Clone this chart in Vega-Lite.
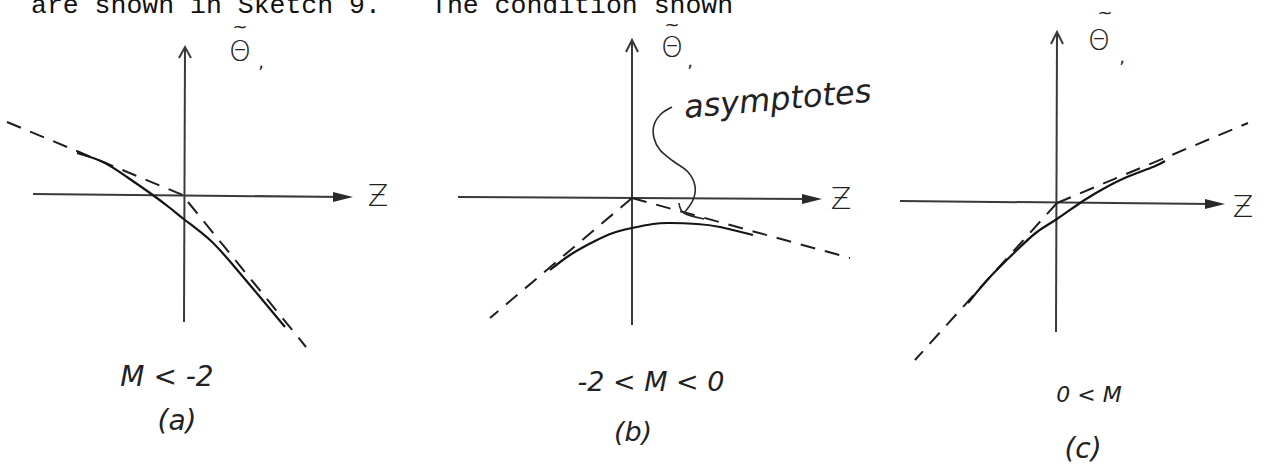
{
  "$schema": "https://vega.github.io/schema/vega-lite/v6.json",
  "padding": 0,
  "spacing": 0,
  "bounds": "flush",
  "background": "white",
  "config": {"view": {"stroke": null}},
  "datasets": {
    "a": [
      {"kind": "hx", "seq": 0, "z": -3.04, "t": 0.04},
      {"kind": "hx", "seq": 1, "z": 3.2, "t": -0.02},
      {"kind": "vy", "seq": 0, "z": 0, "t": 2.98},
      {"kind": "vy", "seq": 1, "z": -0.02, "t": -2.52},
      {"kind": "vhead", "seq": 0, "z": -0.12, "t": 2.76},
      {"kind": "vhead", "seq": 1, "z": 0, "t": 2.98},
      {"kind": "vhead", "seq": 2, "z": 0.12, "t": 2.76},
      {"kind": "tip", "seq": 0, "z": 3.16, "t": -0.02},
      {"kind": "dash1", "seq": 0, "z": -3.56, "t": 1.48},
      {"kind": "dash1", "seq": 1, "z": 0, "t": 0},
      {"kind": "dash2", "seq": 0, "z": 0.06, "t": -0.12},
      {"kind": "dash2", "seq": 1, "z": 2.42, "t": -3.02},
      {"kind": "curve", "seq": 0, "z": -2.16, "t": 0.86},
      {"kind": "curve", "seq": 1, "z": -1.64, "t": 0.68},
      {"kind": "curve", "seq": 2, "z": -1.16, "t": 0.38},
      {"kind": "curve", "seq": 3, "z": -0.7, "t": 0.06},
      {"kind": "curve", "seq": 4, "z": -0.3, "t": -0.24},
      {"kind": "curve", "seq": 5, "z": 0, "t": -0.48},
      {"kind": "curve", "seq": 6, "z": 0.5, "t": -0.88},
      {"kind": "curve", "seq": 7, "z": 0.96, "t": -1.38},
      {"kind": "curve", "seq": 8, "z": 1.5, "t": -2.02},
      {"kind": "curve", "seq": 9, "z": 2.0, "t": -2.62},
      {"kind": "theta", "label": "Θ", "z": 1.1, "t": 2.86},
      {"kind": "tilde", "label": "~", "z": 1.1, "t": 3.36},
      {"kind": "sub", "label": ",", "z": 1.52, "t": 2.66},
      {"kind": "zlab", "label": "Ƶ", "z": 3.86, "t": -0.02},
      {"kind": "cond", "label": "M  <  -2", "z": -0.36, "t": -3.64},
      {"kind": "tag", "label": "(a)", "z": -0.16, "t": -4.52},
      {"kind": "top", "label": "are shown in Sketch 9.", "z": -3.08, "t": 3.66}
    ],
    "b": [
      {"kind": "hx", "seq": 0, "z": -3.48, "t": 0.02},
      {"kind": "hx", "seq": 1, "z": 3.5, "t": -0.02},
      {"kind": "vy", "seq": 0, "z": 0, "t": 3.16},
      {"kind": "vy", "seq": 1, "z": 0, "t": -2.54},
      {"kind": "vhead", "seq": 0, "z": -0.12, "t": 2.92},
      {"kind": "vhead", "seq": 1, "z": 0, "t": 3.16},
      {"kind": "vhead", "seq": 2, "z": 0.12, "t": 2.92},
      {"kind": "tip", "seq": 0, "z": 3.6, "t": -0.02},
      {"kind": "dash1", "seq": 0, "z": 0, "t": 0},
      {"kind": "dash1", "seq": 1, "z": -2.84, "t": -2.4},
      {"kind": "dash2", "seq": 0, "z": 0, "t": 0},
      {"kind": "dash2", "seq": 1, "z": 4.36, "t": -1.2},
      {"kind": "curve", "seq": 0, "z": -1.64, "t": -1.44},
      {"kind": "curve", "seq": 1, "z": -1.24, "t": -1.14},
      {"kind": "curve", "seq": 2, "z": -0.78, "t": -0.88},
      {"kind": "curve", "seq": 3, "z": -0.38, "t": -0.7},
      {"kind": "curve", "seq": 4, "z": 0, "t": -0.6},
      {"kind": "curve", "seq": 5, "z": 0.42, "t": -0.52},
      {"kind": "curve", "seq": 6, "z": 0.76, "t": -0.5},
      {"kind": "curve", "seq": 7, "z": 1.3, "t": -0.52},
      {"kind": "curve", "seq": 8, "z": 1.76, "t": -0.58},
      {"kind": "curve", "seq": 9, "z": 2.42, "t": -0.74},
      {"kind": "wiggle", "seq": 0, "z": 0.8, "t": 1.82},
      {"kind": "wiggle", "seq": 1, "z": 0.58, "t": 1.68},
      {"kind": "wiggle", "seq": 2, "z": 0.44, "t": 1.46},
      {"kind": "wiggle", "seq": 3, "z": 0.44, "t": 1.2},
      {"kind": "wiggle", "seq": 4, "z": 0.56, "t": 0.96},
      {"kind": "wiggle", "seq": 5, "z": 0.82, "t": 0.74},
      {"kind": "wiggle", "seq": 6, "z": 1.12, "t": 0.52},
      {"kind": "wiggle", "seq": 7, "z": 1.26, "t": 0.24},
      {"kind": "wiggle", "seq": 8, "z": 1.22, "t": -0.04},
      {"kind": "wiggle", "seq": 9, "z": 1.04, "t": -0.3},
      {"kind": "whead", "seq": 0, "z": 0.94, "t": -0.1},
      {"kind": "whead", "seq": 1, "z": 1.04, "t": -0.3},
      {"kind": "whead", "seq": 2, "z": 1.44, "t": -0.42},
      {"kind": "theta", "label": "Θ", "z": 0.8, "t": 2.98},
      {"kind": "tilde", "label": "~", "z": 0.8, "t": 3.44},
      {"kind": "sub", "label": ",", "z": 1.16, "t": 2.72},
      {"kind": "zlab", "label": "Ƶ", "z": 4.18, "t": -0.04},
      {"kind": "cond", "label": "-2  <  M  <  0", "z": 0.38, "t": -3.7},
      {"kind": "tag", "label": "(b)", "z": 0.02, "t": -4.7},
      {"kind": "note", "label": "asymptotes", "z": 1.06, "t": 1.6},
      {"kind": "top", "label": "The condition shown", "z": -4.02, "t": 3.7}
    ],
    "c": [
      {"kind": "hx", "seq": 0, "z": -3.14, "t": 0.04},
      {"kind": "hx", "seq": 1, "z": 3.1, "t": -0.02},
      {"kind": "vy", "seq": 0, "z": 0, "t": 3.42},
      {"kind": "vy", "seq": 1, "z": -0.02, "t": -2.58},
      {"kind": "vhead", "seq": 0, "z": -0.12, "t": 3.18},
      {"kind": "vhead", "seq": 1, "z": 0, "t": 3.42},
      {"kind": "vhead", "seq": 2, "z": 0.12, "t": 3.18},
      {"kind": "tip", "seq": 0, "z": 3.16, "t": -0.02},
      {"kind": "dash1", "seq": 0, "z": 0, "t": 0},
      {"kind": "dash1", "seq": 1, "z": -2.84, "t": -3.14},
      {"kind": "dash2", "seq": 0, "z": 0, "t": 0},
      {"kind": "dash2", "seq": 1, "z": 3.82, "t": 1.6},
      {"kind": "curve", "seq": 0, "z": -1.78, "t": -2.0},
      {"kind": "curve", "seq": 1, "z": -1.34, "t": -1.48},
      {"kind": "curve", "seq": 2, "z": -0.8, "t": -0.94},
      {"kind": "curve", "seq": 3, "z": -0.4, "t": -0.58},
      {"kind": "curve", "seq": 4, "z": 0, "t": -0.32},
      {"kind": "curve", "seq": 5, "z": 0.46, "t": 0},
      {"kind": "curve", "seq": 6, "z": 0.92, "t": 0.28},
      {"kind": "curve", "seq": 7, "z": 1.4, "t": 0.52},
      {"kind": "curve", "seq": 8, "z": 1.92, "t": 0.72},
      {"kind": "curve", "seq": 9, "z": 2.16, "t": 0.84},
      {"kind": "theta", "label": "Θ", "z": 0.84, "t": 3.22},
      {"kind": "tilde", "label": "~", "z": 0.96, "t": 3.78},
      {"kind": "sub", "label": ",", "z": 1.3, "t": 2.9},
      {"kind": "zlab", "label": "Ƶ", "z": 3.72, "t": -0.1},
      {"kind": "cond", "label": "0 < M", "z": 0.64, "t": -3.84},
      {"kind": "tag", "label": "(c)", "z": 0.52, "t": -4.94}
    ]
  },
  "hconcat": [
    {
      "width": 420,
      "height": 465,
      "data": {"name": "a"},
      "encoding": {
        "x": {"field": "z", "type": "quantitative", "scale": {"domain": [-3.7, 4.7], "nice": false, "zero": false}, "axis": null},
        "y": {"field": "t", "type": "quantitative", "scale": {"domain": [-5.38, 3.92], "nice": false, "zero": false}, "axis": null}
      },
      "layer": [
        {"transform": [{"filter": "datum.kind === 'hx' || datum.kind === 'vy' || datum.kind === 'vhead'"}],
         "mark": {"type": "line", "color": "#3a3a3a", "strokeWidth": 2},
         "encoding": {"detail": {"field": "kind"}, "order": {"field": "seq", "type": "quantitative"}}},
        {"transform": [{"filter": "datum.kind === 'tip'"}],
         "mark": {"type": "point", "shape": "M-1,-0.5L1,0L-1,0.5Z", "filled": true, "size": 400, "color": "#2a2a2a", "opacity": 1}},
        {"transform": [{"filter": "datum.kind === 'dash1' || datum.kind === 'dash2'"}],
         "mark": {"type": "line", "color": "#1e1e1e", "strokeWidth": 2, "strokeDash": [15, 10]},
         "encoding": {"detail": {"field": "kind"}, "order": {"field": "seq", "type": "quantitative"}}},
        {"transform": [{"filter": "datum.kind === 'curve'"}],
         "mark": {"type": "line", "color": "#141414", "strokeWidth": 2.2, "interpolate": "natural"},
         "encoding": {"order": {"field": "seq", "type": "quantitative"}}},
        {"transform": [{"filter": "datum.kind === 'theta'"}],
         "mark": {"type": "text", "font": "DejaVu Sans", "fontSize": 28, "fontWeight": 300, "color": "#222", "baseline": "middle"},
         "encoding": {"text": {"field": "label"}}},
        {"transform": [{"filter": "datum.kind === 'tilde' || datum.kind === 'sub'"}],
         "mark": {"type": "text", "font": "DejaVu Sans", "fontSize": 18, "color": "#222", "baseline": "middle"},
         "encoding": {"text": {"field": "label"}}},
        {"transform": [{"filter": "datum.kind === 'zlab'"}],
         "mark": {"type": "text", "font": "DejaVu Sans", "fontSize": 30, "fontWeight": 300, "color": "#222", "baseline": "middle"},
         "encoding": {"text": {"field": "label"}}},
        {"transform": [{"filter": "datum.kind === 'cond' || datum.kind === 'tag'"}],
         "mark": {"type": "text", "font": "DejaVu Sans", "fontSize": 28, "fontStyle": "italic", "fontWeight": 300, "color": "#222", "baseline": "middle"},
         "encoding": {"text": {"field": "label"}}},
        {"transform": [{"filter": "datum.kind === 'top'"}],
         "mark": {"type": "text", "font": "Liberation Mono", "fontSize": 26.5, "color": "#111", "align": "left", "baseline": "alphabetic", "clip": true},
         "encoding": {"text": {"field": "label"}}}
      ]
    },
    {
      "width": 460,
      "height": 465,
      "data": {"name": "b"},
      "encoding": {
        "x": {"field": "z", "type": "quantitative", "scale": {"domain": [-4.24, 4.96], "nice": false, "zero": false}, "axis": null},
        "y": {"field": "t", "type": "quantitative", "scale": {"domain": [-5.34, 3.96], "nice": false, "zero": false}, "axis": null}
      },
      "layer": [
        {"transform": [{"filter": "datum.kind === 'hx' || datum.kind === 'vy' || datum.kind === 'vhead'"}],
         "mark": {"type": "line", "color": "#3a3a3a", "strokeWidth": 2},
         "encoding": {"detail": {"field": "kind"}, "order": {"field": "seq", "type": "quantitative"}}},
        {"transform": [{"filter": "datum.kind === 'tip'"}],
         "mark": {"type": "point", "shape": "M-1,-0.5L1,0L-1,0.5Z", "filled": true, "size": 400, "color": "#2a2a2a", "opacity": 1}},
        {"transform": [{"filter": "datum.kind === 'dash1' || datum.kind === 'dash2'"}],
         "mark": {"type": "line", "color": "#1e1e1e", "strokeWidth": 2, "strokeDash": [15, 10]},
         "encoding": {"detail": {"field": "kind"}, "order": {"field": "seq", "type": "quantitative"}}},
        {"transform": [{"filter": "datum.kind === 'curve'"}],
         "mark": {"type": "line", "color": "#141414", "strokeWidth": 2.2, "interpolate": "natural"},
         "encoding": {"order": {"field": "seq", "type": "quantitative"}}},
        {"transform": [{"filter": "datum.kind === 'wiggle' || datum.kind === 'whead'"}],
         "mark": {"type": "line", "color": "#2a2a2a", "strokeWidth": 1.6, "interpolate": "cardinal"},
         "encoding": {"detail": {"field": "kind"}, "order": {"field": "seq", "type": "quantitative"}}},
        {"transform": [{"filter": "datum.kind === 'theta'"}],
         "mark": {"type": "text", "font": "DejaVu Sans", "fontSize": 28, "fontWeight": 300, "color": "#222", "baseline": "middle"},
         "encoding": {"text": {"field": "label"}}},
        {"transform": [{"filter": "datum.kind === 'tilde' || datum.kind === 'sub'"}],
         "mark": {"type": "text", "font": "DejaVu Sans", "fontSize": 18, "color": "#222", "baseline": "middle"},
         "encoding": {"text": {"field": "label"}}},
        {"transform": [{"filter": "datum.kind === 'zlab'"}],
         "mark": {"type": "text", "font": "DejaVu Sans", "fontSize": 30, "fontWeight": 300, "color": "#222", "baseline": "middle"},
         "encoding": {"text": {"field": "label"}}},
        {"transform": [{"filter": "datum.kind === 'cond' || datum.kind === 'tag'"}],
         "mark": {"type": "text", "font": "DejaVu Sans", "fontSize": 27, "fontStyle": "italic", "fontWeight": 300, "color": "#222", "baseline": "middle"},
         "encoding": {"text": {"field": "label"}}},
        {"transform": [{"filter": "datum.kind === 'note'"}],
         "mark": {"type": "text", "font": "DejaVu Sans", "fontSize": 32, "fontStyle": "italic", "fontWeight": 300, "color": "#222", "align": "left", "baseline": "alphabetic", "angle": 355},
         "encoding": {"text": {"field": "label"}}},
        {"transform": [{"filter": "datum.kind === 'top'"}],
         "mark": {"type": "text", "font": "Liberation Mono", "fontSize": 26.5, "color": "#111", "align": "left", "baseline": "alphabetic", "clip": true},
         "encoding": {"text": {"field": "label"}}}
      ]
    },
    {
      "width": 386,
      "height": 465,
      "data": {"name": "c"},
      "encoding": {
        "x": {"field": "z", "type": "quantitative", "scale": {"domain": [-3.54, 4.18], "nice": false, "zero": false}, "axis": null},
        "y": {"field": "t", "type": "quantitative", "scale": {"domain": [-5.24, 4.06], "nice": false, "zero": false}, "axis": null}
      },
      "layer": [
        {"transform": [{"filter": "datum.kind === 'hx' || datum.kind === 'vy' || datum.kind === 'vhead'"}],
         "mark": {"type": "line", "color": "#3a3a3a", "strokeWidth": 2},
         "encoding": {"detail": {"field": "kind"}, "order": {"field": "seq", "type": "quantitative"}}},
        {"transform": [{"filter": "datum.kind === 'tip'"}],
         "mark": {"type": "point", "shape": "M-1,-0.5L1,0L-1,0.5Z", "filled": true, "size": 400, "color": "#2a2a2a", "opacity": 1}},
        {"transform": [{"filter": "datum.kind === 'dash1' || datum.kind === 'dash2'"}],
         "mark": {"type": "line", "color": "#1e1e1e", "strokeWidth": 2, "strokeDash": [15, 10]},
         "encoding": {"detail": {"field": "kind"}, "order": {"field": "seq", "type": "quantitative"}}},
        {"transform": [{"filter": "datum.kind === 'curve'"}],
         "mark": {"type": "line", "color": "#141414", "strokeWidth": 2.2, "interpolate": "natural"},
         "encoding": {"order": {"field": "seq", "type": "quantitative"}}},
        {"transform": [{"filter": "datum.kind === 'theta'"}],
         "mark": {"type": "text", "font": "DejaVu Sans", "fontSize": 28, "fontWeight": 300, "color": "#222", "baseline": "middle"},
         "encoding": {"text": {"field": "label"}}},
        {"transform": [{"filter": "datum.kind === 'tilde' || datum.kind === 'sub'"}],
         "mark": {"type": "text", "font": "DejaVu Sans", "fontSize": 18, "color": "#222", "baseline": "middle"},
         "encoding": {"text": {"field": "label"}}},
        {"transform": [{"filter": "datum.kind === 'zlab'"}],
         "mark": {"type": "text", "font": "DejaVu Sans", "fontSize": 30, "fontWeight": 300, "color": "#222", "baseline": "middle"},
         "encoding": {"text": {"field": "label"}}},
        {"transform": [{"filter": "datum.kind === 'cond'"}],
         "mark": {"type": "text", "font": "DejaVu Sans", "fontSize": 22, "fontStyle": "italic", "fontWeight": 300, "color": "#222", "baseline": "middle"},
         "encoding": {"text": {"field": "label"}}},
        {"transform": [{"filter": "datum.kind === 'tag'"}],
         "mark": {"type": "text", "font": "DejaVu Sans", "fontSize": 28, "fontStyle": "italic", "fontWeight": 300, "color": "#222", "baseline": "middle"},
         "encoding": {"text": {"field": "label"}}}
      ]
    }
  ]
}
